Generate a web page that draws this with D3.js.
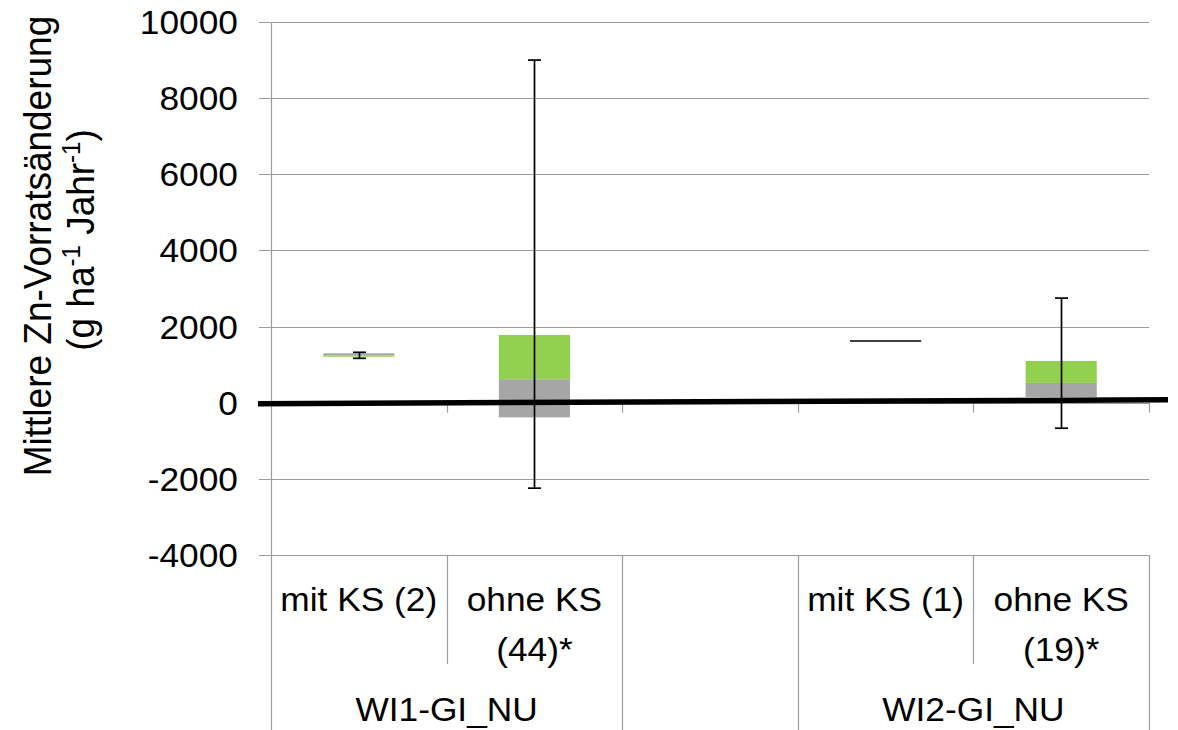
<!DOCTYPE html>
<html><head><meta charset="utf-8">
<script src="https://cdn.jsdelivr.net/npm/d3@7"></script>
<style>
body{margin:0;background:#fff}
text{font-family:"Liberation Sans",Arial,Helvetica,sans-serif;fill:#000}
</style>
</head><body>
<svg id="chart" width="1178" height="730"></svg>
<script>
// ---- data ----
const categories = ["mit KS (2)", "ohne KS (44)*", "", "mit KS (1)", "ohne KS (19)*"];
const categoryLines = [["mit KS (2)"], ["ohne KS", "(44)*"], [], ["mit KS (1)"], ["ohne KS", "(19)*"]];
const groupNames = ["WI1-GI_NU", "WI2-GI_NU"];
const groupStart = [0, 3];
const groupEnd = [1, 4];
const grayLow   = [1245, -385, null, null, 150];
const grayHigh  = [1297,  618, null, null, 520];
const greenLow  = [1208,  618, null, null, 520];
const greenHigh = [1245, 1780, null, null, 1098];
const medianOnly = [null, null, null, 1620, null];
const whiskerLow  = [1166, -2245, null, null, -670];
const whiskerHigh = [1324,  9000, null, null, 2748];
const yTicks = [-4000, -2000, 0, 2000, 4000, 6000, 8000, 10000];
const zeroLine = [0, 105];
const yTitle1 = "Mittlere Zn-Vorratsänderung";

// ---- layout ----
const W = 1178, H = 730;
const L = 271, R = 1149, T = 22, B = 555;
const SX = 1.07; // horizontal text stretch
const svg = d3.select("#chart");
svg.append("rect").attr("width", W).attr("height", H).attr("fill", "#fff");

const x = d3.scaleBand().domain(d3.range(categories.length)).range([L, R]).padding(0);
const y = d3.scaleLinear().domain([-4000, 10000]).range([B, T]);
const bw = x.bandwidth() * 0.405;
const cx = i => x(i) + x.bandwidth() / 2;
const grid = "#9c9c9c";

// gridlines + y ticks
svg.append("g").selectAll("line").data(yTicks).join("line")
  .attr("x1", L - 12).attr("x2", R)
  .attr("y1", d => Math.round(y(d)) + 0.5).attr("y2", d => Math.round(y(d)) + 0.5)
  .attr("stroke", grid).attr("stroke-width", 1.2);

// y axis line (extends through the label area)
svg.append("line").attr("x1", L + 0.5).attr("x2", L + 0.5).attr("y1", T).attr("y2", H)
  .attr("stroke", grid).attr("stroke-width", 1.2);

// category separators in label area
const bounds = d3.range(categories.length + 1).map(i => i < categories.length ? x(i) : R);
const fullBounds = new Set([0, 2, 3, 5]);
svg.append("g").selectAll("line").data(bounds.map((b, i) => ({b, i})).filter(d => d.i > 0)).join("line")
  .attr("x1", d => Math.round(d.b) + 0.5).attr("x2", d => Math.round(d.b) + 0.5)
  .attr("y1", B).attr("y2", d => fullBounds.has(d.i) ? H : 664)
  .attr("stroke", grid).attr("stroke-width", 1.2);

// category axis tick marks at y=0
svg.append("g").selectAll("line").data(bounds.slice(1)).join("line")
  .attr("x1", d => Math.round(d) + 0.5).attr("x2", d => Math.round(d) + 0.5)
  .attr("y1", y(0)).attr("y2", y(0) + 10)
  .attr("stroke", grid).attr("stroke-width", 1.2);

// y tick labels
svg.append("g").selectAll("text").data(yTicks).join("text")
  .attr("transform", d => `translate(238,${y(d) + 12}) scale(${SX},1)`)
  .attr("text-anchor", "end").attr("font-size", 33).text(d => d);

// boxes
const idx = d3.range(categories.length);
svg.append("g").selectAll("rect").data(idx.filter(i => grayLow[i] != null)).join("rect")
  .attr("x", i => cx(i) - bw / 2).attr("width", bw)
  .attr("y", i => y(grayHigh[i])).attr("height", i => y(grayLow[i]) - y(grayHigh[i]))
  .attr("fill", "#a6a6a6");
svg.append("g").selectAll("rect").data(idx.filter(i => greenLow[i] != null)).join("rect")
  .attr("x", i => cx(i) - bw / 2).attr("width", bw)
  .attr("y", i => y(greenHigh[i])).attr("height", i => y(greenLow[i]) - y(greenHigh[i]))
  .attr("fill", "#92d050");
svg.append("g").selectAll("line").data(idx.filter(i => medianOnly[i] != null)).join("line")
  .attr("x1", i => cx(i) - bw / 2).attr("x2", i => cx(i) + bw / 2)
  .attr("y1", i => y(medianOnly[i])).attr("y2", i => y(medianOnly[i]))
  .attr("stroke", "#000").attr("stroke-width", 1.6);

// zero reference line
svg.append("line")
  .attr("x1", L - 13).attr("x2", R + 19)
  .attr("y1", y(zeroLine[0]) + 1).attr("y2", y(zeroLine[1]) + 1)
  .attr("stroke", "#000").attr("stroke-width", 5.5);

// whiskers
const wk = svg.append("g").attr("stroke", "#000").attr("stroke-width", 1.7);
idx.filter(i => whiskerLow[i] != null).forEach(i => {
  const c = Math.round(cx(i)) + 0.5;
  wk.append("line").attr("x1", c).attr("x2", c).attr("y1", y(whiskerHigh[i])).attr("y2", y(whiskerLow[i]));
  [whiskerHigh[i], whiskerLow[i]].forEach(v => {
    wk.append("line").attr("x1", c - 6.5).attr("x2", c + 6.5).attr("y1", y(v)).attr("y2", y(v));
  });
});

// category labels
categoryLines.forEach((lines, i) => {
  lines.forEach((s, k) => {
    svg.append("text")
      .attr("transform", `translate(${cx(i)},${611 + k * 50}) scale(${SX},1)`)
      .attr("text-anchor", "middle").attr("font-size", 33).text(s);
  });
});
// group labels
groupNames.forEach((g, k) => {
  const a = x(groupStart[k]), b = x(groupEnd[k]) + x.bandwidth();
  svg.append("text")
    .attr("transform", `translate(${(a + b) / 2},${721}) scale(${SX},1)`)
    .attr("text-anchor", "middle").attr("font-size", 33).text(g);
});

// y axis title
svg.append("text")
  .attr("transform", `translate(51,246) rotate(-90) scale(1,${SX})`)
  .attr("text-anchor", "middle").attr("font-size", 37).text(yTitle1);
const t2 = svg.append("text")
  .attr("transform", `translate(94,240) rotate(-90) scale(1,${SX})`)
  .attr("font-size", 37);
t2.append("tspan").text("(g ha");
t2.append("tspan").attr("font-size", 24).attr("dy", -13).text("-1");
t2.append("tspan").attr("dy", 13).text(" Jahr");
t2.append("tspan").attr("font-size", 24).attr("dy", -13).text("-1");
t2.append("tspan").attr("dy", 13).text(")");
// center the second line manually (tspans with dy can split text chunks)
const len = t2.node().getComputedTextLength();
t2.attr("x", -len / 2);
</script>
</body></html>
